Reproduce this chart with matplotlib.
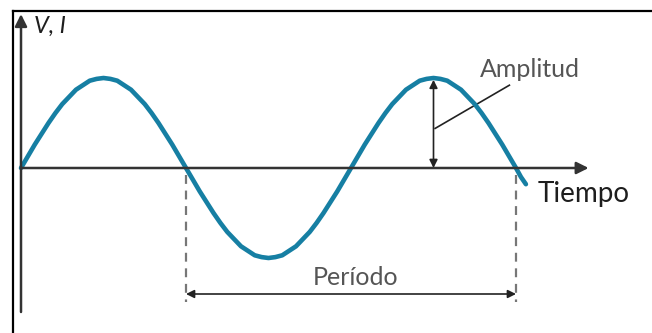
import matplotlib

matplotlib.use("Agg")
import matplotlib.pyplot as plt
from matplotlib.lines import Line2D

plt.rcParams["font.family"] = ["Lato", "DejaVu Sans"]

# signal sampled every 1/24 of a half period (half period = 1 time unit)
SIGNAL = [
    0.0, 0.13, 0.26, 0.38, 0.5, 0.61, 0.71, 0.79, 0.87, 0.92, 0.97, 0.99,
    1.0, 0.99, 0.97, 0.92, 0.87, 0.79, 0.71, 0.61, 0.5, 0.38, 0.26, 0.13,
    0.0, -0.13, -0.26, -0.38, -0.5, -0.61, -0.71, -0.79, -0.87, -0.92, -0.97, -0.99,
    -1.0, -0.99, -0.97, -0.92, -0.87, -0.79, -0.71, -0.61, -0.5, -0.38, -0.26, -0.13,
    0.0, 0.13, 0.26, 0.38, 0.5, 0.61, 0.71, 0.79, 0.87, 0.92, 0.97, 0.99,
    1.0, 0.99, 0.97, 0.92, 0.87, 0.79, 0.71, 0.61, 0.5, 0.38, 0.26, 0.13,
    0.0, -0.1, -0.18,
]
TIME = [i / 24 for i in range(len(SIGNAL) - 2)] + [3.03, 3.06]

PERIOD_START = 1.0
PERIOD_END = 3.0
PEAK_T = 2.5
PEAK_V = 1.0

LABEL_Y = "V, I"
LABEL_X = "Tiempo"
LABEL_AMP = "Amplitud"
LABEL_PERIOD = "Período"

CURVE = "#167fa3"
AXIS = "#333333"
GREY = "#555555"

fig = plt.figure(figsize=(6.52, 3.33), dpi=100)
ax = fig.add_axes([0, 0, 1, 1])
ax.set_xlim(-21 / 165, 631 / 165)
ax.set_ylim(-165 / 90, 168 / 90)
ax.axis("off")

# frame (only top and left edges show)
fig.add_artist(Line2D([13 / 652, 13 / 652], [0, 1 - 11 / 333], color="black", lw=1.6))
fig.add_artist(Line2D([13 / 652, 1], [1 - 11 / 333, 1 - 11 / 333], color="black", lw=1.6))

# axes with arrows
arrow_kw = dict(arrowstyle="-|>", color=AXIS, lw=1.8, mutation_scale=18, shrinkA=0, shrinkB=0)
ax.annotate("", xy=(3.44, 0), xytext=(0, 0), arrowprops=arrow_kw)
ax.annotate("", xy=(0, 1.71), xytext=(0, -1.6), arrowprops=arrow_kw)

# period markers
for t in (PERIOD_START, PERIOD_END):
    ax.plot([t, t], [-0.08, -1.49], color="#777777", lw=1.6, linestyle=(0, (4, 3)))
ax.annotate("", xy=(PERIOD_END, -1.4), xytext=(PERIOD_START, -1.4),
            arrowprops=dict(arrowstyle="<|-|>", color="#222222", lw=1.2,
                            mutation_scale=12, shrinkA=0, shrinkB=0))
ax.text((PERIOD_START + PERIOD_END) / 2 + 0.03, -1.3, LABEL_PERIOD, ha="center",
        va="baseline", fontsize=18, color=GREY)

# amplitude marker
ax.annotate("", xy=(PEAK_T, PEAK_V - 0.02), xytext=(PEAK_T, 0),
            arrowprops=dict(arrowstyle="<|-|>", color="#222222", lw=1.2,
                            mutation_scale=12, shrinkA=0, shrinkB=0))
ax.plot([PEAK_T + 0.01, 2.96], [0.44, 0.92], color="#222222", lw=1.2)
ax.text(2.782, 1.011, LABEL_AMP, ha="left", va="baseline", fontsize=18, color=GREY)

# signal
ax.plot(TIME, SIGNAL, color=CURVE, lw=3.3, solid_capstyle="round", solid_joinstyle="round")

ax.text(3.133, -0.378, LABEL_X, ha="left", va="baseline", fontsize=20, color="#1e1e1e")
ax.text(0.079, 1.5, LABEL_Y, ha="left", va="baseline", fontsize=17, color="#1e1e1e",
        style="italic")

fig.savefig("out.png", dpi=100)
